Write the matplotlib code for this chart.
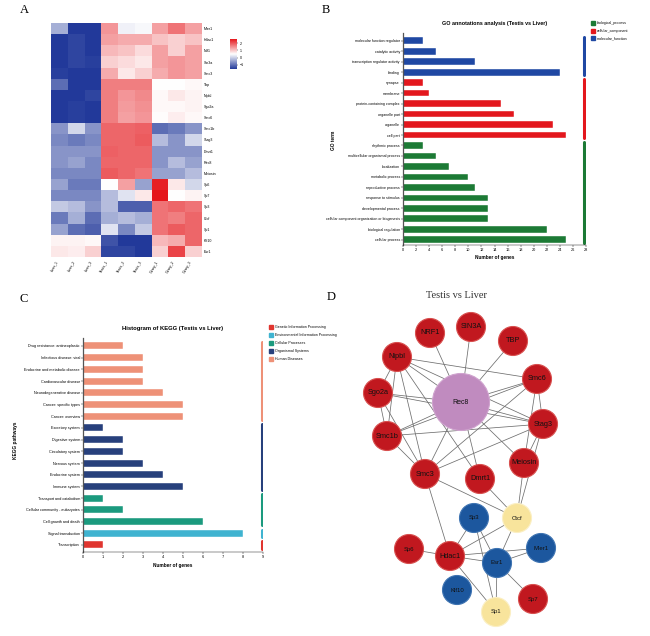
import numpy as np
import matplotlib.pyplot as plt
from matplotlib.colors import LinearSegmentedColormap
from matplotlib.patches import Circle, Rectangle

plt.rcParams['font.family'] = ['Liberation Sans', 'DejaVu Sans']

W, H = 650, 636

# ---------------- data ----------------
# A: heatmap (row z-scores)
hm_genes = ['Mier1', 'Hdac1', 'Nrf1', 'Sin3a', 'Smc3', 'Tbp', 'Nipbl', 'Sgo2a', 'Smc6',
            'Smc1b', 'Stag3', 'Dmrt1', 'Rec8', 'Meiosin', 'Sp6', 'Sp7', 'Sp3', 'Ctcf',
            'Sp1', 'Klf10', 'Esr1']
hm_samples = ['Liver_1', 'Liver_2', 'Liver_3', 'Testis_1', 'Testis_2', 'Testis_3',
              'Ovary_1', 'Ovary_2', 'Ovary_3']
hm_values = [
    [-0.34, -1.60, -1.60, 1.45, 0.36, 0.43, 1.34, 1.76, 1.34],
    [-1.60, -1.46, -1.60, 1.34, 1.24, 1.24, 1.03, 0.92, 1.03],
    [-1.60, -1.46, -1.60, 1.13, 1.03, 0.82, 1.34, 0.92, 1.34],
    [-1.60, -1.46, -1.53, 0.92, 0.82, 0.71, 1.34, 1.45, 1.34],
    [-1.53, -1.60, -1.60, 1.24, 0.71, 0.92, 1.24, 1.45, 1.34],
    [-1.04, -1.60, -1.60, 1.66, 1.66, 1.66, 0.50, 0.50, 0.55],
    [-1.60, -1.60, -1.46, 1.66, 1.45, 1.55, 0.55, 0.71, 0.60],
    [-1.60, -1.53, -1.60, 1.66, 1.40, 1.50, 0.55, 0.55, 0.60],
    [-1.60, -1.53, -1.60, 1.66, 1.34, 1.45, 0.52, 0.66, 0.55],
    [-0.62, 0.08, -0.62, 1.87, 1.87, 1.92, -1.04, -0.90, -0.62],
    [-0.76, -0.90, -0.76, 1.87, 1.87, 1.97, -0.20, -0.62, 0.08],
    [-0.62, -0.62, -0.62, 1.92, 1.87, 1.87, -0.62, -0.62, -0.62],
    [-0.62, -0.48, -0.76, 1.87, 1.87, 1.87, -0.62, -0.20, -0.48],
    [-0.76, -0.76, -0.76, 1.97, 1.87, 1.76, -0.48, -0.48, -0.20],
    [-0.48, -0.90, -0.90, 0.50, 1.34, -0.48, 2.50, 0.71, 0.08],
    [-0.76, -0.76, -0.76, -0.20, 0.22, 0.71, 2.60, 0.50, 0.60],
    [-0.06, -0.20, -0.62, -0.20, -1.18, -1.18, 1.76, 1.87, 1.76],
    [-0.90, -0.34, -1.04, -0.34, -0.20, -0.34, 1.76, 1.66, 1.87],
    [-0.48, -1.04, -1.18, 0.22, -0.76, -0.06, 1.76, 1.97, 1.87],
    [0.60, 0.60, 0.55, -1.32, -1.60, -1.60, 1.13, 1.24, 1.87],
    [0.71, 0.66, 0.92, -1.46, -1.46, -1.60, 0.92, 2.18, 0.92],
]
cbar_ticks = [2, 1, 0, -1]

# B: GO annotations
go_terms = ['molecular function regulator', 'catalytic activity',
            'transcription regulator activity', 'binding',
            'synapse', 'membrane', 'protein-containing complex', 'organelle part',
            'organelle', 'cell part',
            'rhythmic process', 'multicellular organismal process', 'localization',
            'metabolic process', 'reproductive process', 'response to stimulus',
            'developmental process', 'cellular component organization or biogenesis',
            'biological regulation', 'cellular process']
go_counts = [3, 5, 11, 24, 3, 4, 15, 17, 23, 25, 3, 5, 7, 10, 11, 13, 13, 13, 22, 25]
go_groups = ['molecular_function'] * 4 + ['cellular_component'] * 6 + ['biological_process'] * 10
go_legend = ['biological_process', 'cellular_component', 'molecular_function']

# C: KEGG
kegg_terms = ['Drug resistance: antineoplastic', 'Infectious disease: viral',
              'Endocrine and metabolic disease', 'Cardiovascular disease',
              'Neurodegenerative disease', 'Cancer: specific types', 'Cancer: overview',
              'Excretory system', 'Digestive system', 'Circulatory system',
              'Nervous system', 'Endocrine system', 'Immune system',
              'Transport and catabolism', 'Cellular community - eukaryotes',
              'Cell growth and death', 'Signal transduction', 'Transcription']
kegg_counts = [2, 3, 3, 3, 4, 5, 5, 1, 2, 2, 3, 4, 5, 1, 2, 6, 8, 1]
kegg_groups = (['Human Diseases'] * 7 + ['Organismal Systems'] * 6 +
               ['Cellular Processes'] * 3 + ['Environmental Information Processing'] +
               ['Genetic Information Processing'])
kegg_legend = ['Genetic Information Processing', 'Environmental Information Processing',
               'Cellular Processes', 'Organismal Systems', 'Human Diseases']

# D: network
net_nodes = ['NRF1', 'SIN3A', 'TBP', 'Nipbl', 'Smc6', 'Sgo2a', 'Rec8', 'Stag3', 'Smc1b',
             'Meiosin', 'Smc3', 'Dmrt1', 'Ctcf', 'Sp3', 'Sp6', 'Hdac1', 'Mier1', 'Esr1',
             'Klf10', 'Sp7', 'Sp1']
net_kind = ['red', 'red', 'red', 'red', 'red', 'red', 'hub', 'red', 'red',
            'red', 'red', 'red', 'yellow', 'blue', 'red', 'red', 'blue', 'blue',
            'blue', 'red', 'yellow']
net_edges = [('NRF1', 'Rec8'), ('SIN3A', 'Rec8'), ('TBP', 'Rec8'),
             ('Nipbl', 'Rec8'), ('Nipbl', 'Smc6'), ('Nipbl', 'Stag3'), ('Nipbl', 'Smc1b'),
             ('Nipbl', 'Smc3'), ('Nipbl', 'Dmrt1'), ('Nipbl', 'Sgo2a'),
             ('Sgo2a', 'Rec8'), ('Sgo2a', 'Stag3'), ('Sgo2a', 'Smc1b'), ('Sgo2a', 'Smc3'),
             ('Smc1b', 'Rec8'), ('Smc1b', 'Smc6'), ('Smc1b', 'Stag3'), ('Smc1b', 'Smc3'),
             ('Smc6', 'Rec8'), ('Smc6', 'Stag3'), ('Smc6', 'Smc3'), ('Smc6', 'Meiosin'),
             ('Stag3', 'Rec8'), ('Stag3', 'Smc3'), ('Stag3', 'Meiosin'), ('Stag3', 'Ctcf'),
             ('Rec8', 'Smc3'), ('Rec8', 'Meiosin'), ('Rec8', 'Dmrt1'),
             ('Meiosin', 'Ctcf'), ('Smc3', 'Ctcf'), ('Smc3', 'Hdac1'), ('Dmrt1', 'Ctcf'),
             ('Ctcf', 'Hdac1'), ('Ctcf', 'Esr1'),
             ('Sp3', 'Hdac1'), ('Sp3', 'Esr1'), ('Sp3', 'Sp1'),
             ('Sp6', 'Hdac1'), ('Hdac1', 'Esr1'), ('Hdac1', 'Mier1'), ('Hdac1', 'Sp1'),
             ('Esr1', 'Mier1'), ('Esr1', 'Sp7'), ('Esr1', 'Sp1')]

# node layout (pixel positions of the drawing)
layout = {'NRF1': (430, 333), 'SIN3A': (471, 327), 'TBP': (513, 341), 'Nipbl': (397, 357),
          'Smc6': (537, 379), 'Sgo2a': (378, 393), 'Rec8': (461, 402), 'Stag3': (543, 424),
          'Smc1b': (387, 436), 'Meiosin': (524, 463), 'Smc3': (425, 474), 'Dmrt1': (480, 479),
          'Ctcf': (517, 518), 'Sp3': (474, 518), 'Sp6': (409, 549), 'Hdac1': (450, 556),
          'Mier1': (541, 548), 'Esr1': (497, 563), 'Klf10': (457, 590), 'Sp7': (533, 599),
          'Sp1': (496, 612)}

# ---------------- figure ----------------
fig = plt.figure(figsize=(W / 100, H / 100), dpi=100)


def px_axes(x0, y0, x1, y1):
    return fig.add_axes([x0 / W, 1 - y1 / H, (x1 - x0) / W, (y1 - y0) / H])


serif = ['Liberation Serif', 'DejaVu Serif']
for lab, (x, y) in zip('ABCD', [(20, 10), (322, 10), (20, 299), (327, 297)]):
    fig.text(x / W, 1 - y / H, lab, family=serif, fontsize=9, ha='left', va='center')

# ----- A heatmap -----
cmap = LinearSegmentedColormap.from_list('bwr2', ['#22399a', '#ffffff', '#e5161b'])
ax = px_axes(51, 23, 201, 257)
im = ax.imshow(np.array(hm_values), cmap=cmap, vmin=-1.6, vmax=2.6, aspect='auto',
               interpolation='nearest')
ax.set_xticks(range(len(hm_samples)))
ax.set_xticklabels(hm_samples, rotation=60, ha='right', va='top', fontsize=2.6)
ax.set_yticks(range(len(hm_genes)))
ax.set_yticklabels(hm_genes, fontsize=2.6)
ax.yaxis.tick_right()
ax.tick_params(length=0, pad=2)
for s in ax.spines.values():
    s.set_visible(False)

cax = px_axes(230, 39, 237, 69)
cb = fig.colorbar(im, cax=cax, ticks=cbar_ticks)
cb.outline.set_visible(False)
cb.ax.tick_params(labelsize=2.6, length=1, width=0.3, pad=1)

# ----- B GO -----
go_colors = {'biological_process': '#1c7a35', 'cellular_component': '#e3171d',
             'molecular_function': '#1f48a3'}
ax = px_axes(403, 33, 586, 245)
yy = np.arange(len(go_terms))
ax.barh(yy, go_counts, height=0.64, color=[go_colors[g] for g in go_groups],
        edgecolor='#ffffff', linewidth=0.3)
for g in go_legend:
    idx = [i for i, gg in enumerate(go_groups) if gg == g]
    ax.plot([27.75, 27.75], [min(idx) - 0.35, max(idx) + 0.3], color=go_colors[g],
            lw=2.2, solid_capstyle='round')
ax.set_xlim(0, 28)
ax.set_ylim(19.5, -0.74)
ax.set_xticks(range(0, 29, 2))
ax.set_yticks(yy)
ax.set_yticklabels(go_terms, fontsize=2.6)
ax.tick_params(axis='x', labelsize=2.8, length=1.2, width=0.3, pad=1)
ax.tick_params(axis='y', length=1.2, width=0.3, pad=1)
for s in ['top', 'right']:
    ax.spines[s].set_visible(False)
ax.spines['left'].set_color('#555555')
ax.spines['left'].set_linewidth(0.9)
ax.spines['bottom'].set_linewidth(0.3)
ax.set_xlabel('Number of genes', fontsize=3.4, fontweight='bold', labelpad=2)
ax.set_title('GO annotations analysis (Testis vs Liver)', fontsize=3.9,
             fontweight='bold', pad=6)
fig.text(333 / W, 1 - 140 / H, 'GO term', rotation=90, fontsize=3.4, fontweight='bold',
         ha='center', va='center')
for i, g in enumerate(go_legend):
    y = 23 + i * 7.7
    fig.patches.append(Rectangle((591 / W, 1 - (y + 2) / H), 4 / W, 4 / H,
                                 transform=fig.transFigure, color=go_colors[g]))
    fig.text(597 / W, 1 - y / H, g, fontsize=2.6, va='center', ha='left')

# ----- C KEGG -----
kegg_colors = {'Genetic Information Processing': '#e0352f',
               'Environmental Information Processing': '#3fb3d0',
               'Cellular Processes': '#1b9a7e', 'Organismal Systems': '#27407c',
               'Human Diseases': '#ee9177'}
ax = px_axes(83, 338, 263, 552)
yy = np.arange(len(kegg_terms))
ax.barh(yy, kegg_counts, height=0.6, color=[kegg_colors[g] for g in kegg_groups],
        edgecolor='#ffffff', linewidth=0.3)
for g in kegg_legend:
    idx = [i for i, gg in enumerate(kegg_groups) if gg == g]
    ax.plot([8.93, 8.93], [min(idx) - 0.32, max(idx) + 0.32], color=kegg_colors[g],
            lw=2.2, solid_capstyle='round')
ax.set_xlim(0, 9)
ax.set_ylim(17.6, -0.68)
ax.set_xticks(range(0, 10))
ax.set_yticks(yy)
ax.set_yticklabels(kegg_terms, fontsize=2.7)
ax.tick_params(axis='x', labelsize=2.8, length=1.2, width=0.3, pad=1)
ax.tick_params(axis='y', length=1.2, width=0.3, pad=1)
for s in ['top', 'right']:
    ax.spines[s].set_visible(False)
ax.spines['left'].set_color('#555555')
ax.spines['left'].set_linewidth(0.9)
ax.spines['bottom'].set_linewidth(0.3)
ax.set_xlabel('Number of genes', fontsize=3.4, fontweight='bold', labelpad=3)
ax.set_title('Histogram of KEGG (Testis vs Liver)', fontsize=4.2, fontweight='bold',
             pad=6)
fig.text(15 / W, 1 - 440 / H, 'KEGG pathways', rotation=90, fontsize=3.4,
         fontweight='bold', ha='center', va='center')
for i, g in enumerate(kegg_legend):
    y = 327 + i * 8
    fig.patches.append(Rectangle((269 / W, 1 - (y + 2) / H), 4 / W, 4 / H,
                                 transform=fig.transFigure, color=kegg_colors[g]))
    fig.text(275 / W, 1 - y / H, g, fontsize=2.6, va='center', ha='left')

# ----- D network -----
node_face = {'red': '#c1181f', 'hub': '#c08bbf', 'blue': '#1c579e', 'yellow': '#f8e49c'}
node_ring = {'red': '#d8504f', 'hub': '#cfa3ce', 'blue': '#3f74b2', 'yellow': '#fbefc4'}
ax = px_axes(325, 300, 650, 636)
ax.set_xlim(325, 650)
ax.set_ylim(636, 300)
ax.axis('off')
fig.text(457 / W, 1 - 296 / H, 'Testis vs Liver', family=serif, fontsize=7.5,
         ha='center', va='center', color='#333333')
for a, b in net_edges:
    (x1, y1), (x2, y2) = layout[a], layout[b]
    ax.plot([x1, x2], [y1, y2], color='#6e6e6e', lw=0.55, zorder=1)
for name, kind in zip(net_nodes, net_kind):
    x, y = layout[name]
    r = 28.5 if kind == 'hub' else 14.5
    ax.add_patch(Circle((x, y), r, facecolor=node_face[kind], edgecolor=node_ring[kind],
                        lw=0.8, zorder=2))
    fs = 5 if kind in ('hub',) else (5.3 if kind == 'red' and name not in ('Sp6', 'Sp7') else 4.3)
    ax.text(x, y, name, fontsize=fs, ha='center', va='center', color='#111111', zorder=3)

fig.savefig('out.png', dpi=100)
